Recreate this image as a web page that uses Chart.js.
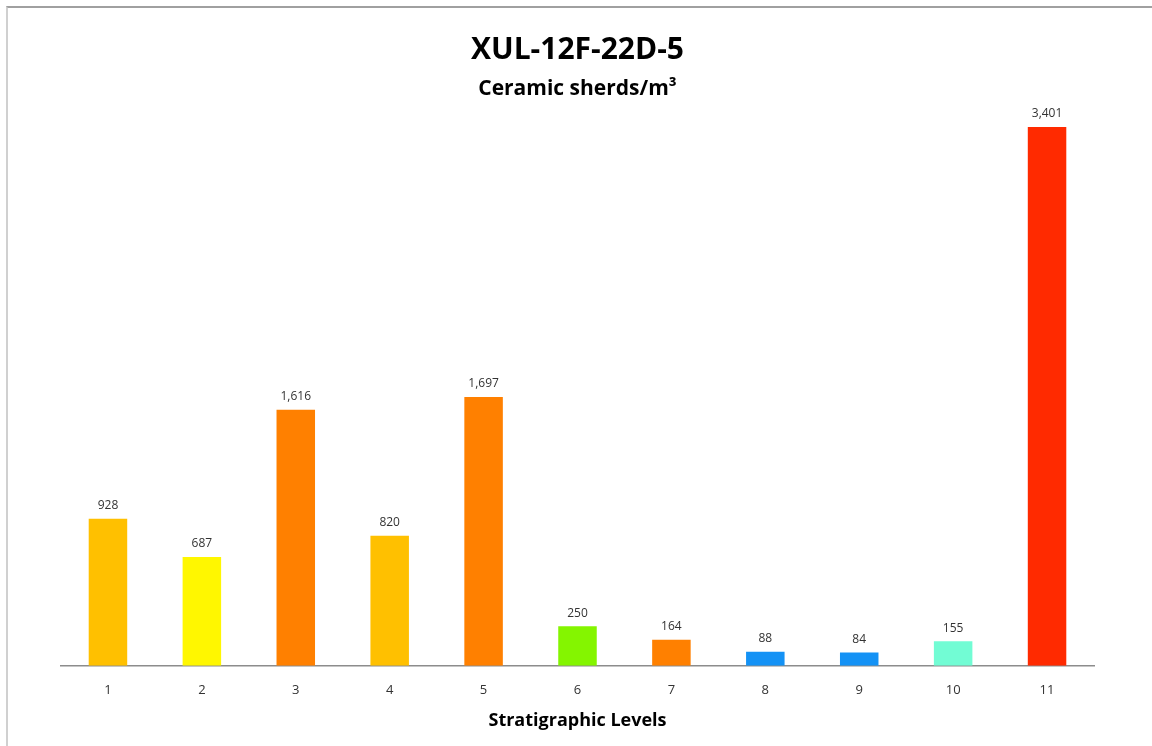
<!DOCTYPE html>
<html>
<head>
<meta charset="utf-8">
<script src="https://cdn.jsdelivr.net/npm/chart.js@4"></script>
<style>
	body { margin: 0; background: #fff; }
	#wrap { position: relative; width: 1152px; height: 746px; }
	#frame { position: absolute; left: 6px; top: 6px; right: 0; bottom: 0; border-left: 2px solid #d0d0d0; border-top: 2px solid #a0a0a0; }
	canvas { position: absolute; left: 0; top: 0; }
</style>
</head>
<body>
<div id="wrap">
	<div id="frame"></div>
	<canvas id="levelsChart" width="1152" height="746"></canvas>
</div>
<script>
	const levels = ['1', '2', '3', '4', '5', '6', '7', '8', '9', '10', '11']
	const sherds = [928, 687, 1616, 820, 1697, 250, 164, 88, 84, 155, 3401]
	const barColors = ['#FFC000', '#FFF700', '#FF8000', '#FFC000', '#FF8000', '#84F500', '#FF8000', '#1492F5', '#1492F5', '#72FCD4', '#FF2A00']

	// writes the value over every bar
	const valueLabels = {
		id: 'valueLabels',
		afterDatasetsDraw(chart) {
			const ctx = chart.ctx
			const meta = chart.getDatasetMeta(0)
			ctx.save()
			ctx.font = '12px "Open Sans"'
			ctx.fillStyle = '#333'
			ctx.textAlign = 'center'
			ctx.textBaseline = 'bottom'
			meta.data.forEach((bar, i) => {
				ctx.fillText(sherds[i].toLocaleString('en-US'), bar.x, bar.y - 7)
			})
			ctx.restore()
		}
	}

	new Chart(document.getElementById('levelsChart').getContext('2d'), {
		type: 'bar',
		data: {
			labels: levels,
			datasets: [{
				data: sherds,
				backgroundColor: barColors,
				barPercentage: 0.41,
				categoryPercentage: 1
			}]
		},
		options: {
			responsive: false,
			animation: false,
			layout: { padding: { left: 61, right: 58, top: 0, bottom: 14 } },
			plugins: {
				legend: { display: false },
				tooltip: { enabled: false },
				title: {
					display: true,
					text: 'XUL-12F-22D-5',
					color: '#000',
					font: { family: 'Open Sans', size: 30, weight: 'bold' },
					padding: { top: 32, bottom: 0 }
				},
				subtitle: {
					display: true,
					text: 'Ceramic sherds/m³',
					color: '#000',
					font: { family: 'Open Sans', size: 21, weight: 'bold' },
					padding: { top: 8, bottom: 10 }
				}
			},
			scales: {
				x: {
					grid: { display: false },
					border: { color: '#8c8c8c', width: 1.5 },
					ticks: { color: '#333', font: { family: 'Open Sans', size: 13 }, padding: 9 },
					title: {
						display: true,
						text: 'Stratigraphic Levels',
						color: '#000',
						font: { family: 'Open Sans', size: 18, weight: 'bold' },
						padding: { top: 3, bottom: 0 }
					}
				},
				y: {
					display: false,
					min: 0,
					max: 3500
				}
			}
		},
		plugins: [valueLabels]
	})
</script>
</body>
</html>
